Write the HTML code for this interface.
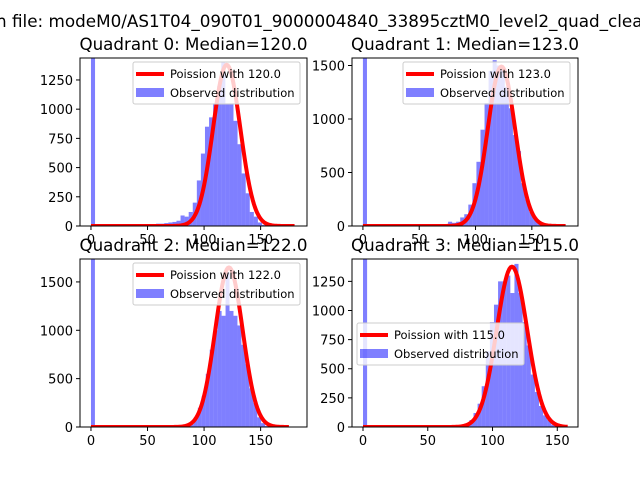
<!DOCTYPE html>
<html><head><meta charset="utf-8"><style>
body{margin:0;background:#fff;width:640px;height:480px;overflow:hidden}
svg text{font-family:"DejaVu Sans","Liberation Sans",sans-serif}
</style></head><body>
<svg id="fig" width="640" height="480" xmlns="http://www.w3.org/2000/svg">
<text x="-4" y="27" font-size="16.8" fill="#000">n file: modeM0/AS1T04_090T01_9000004840_33895cztM0_level2_quad_clean.evt</text>
</svg>
<script>
const quadTitles=["Quadrant 0: Median=120.0","Quadrant 1: Median=123.0","Quadrant 2: Median=122.0","Quadrant 3: Median=115.0"];
const medians=[120,123,122,115];
const binWidths=[3.6,3.6,3.5,3.16];
const poissonPeaks=[1380,1490,1650,1376];
const q0Counts=[1500,0,0,0,0,0,0,0,0,0,0,0,0,0,0,15,20,20,25,30,35,45,90,80,120,200,390,620,850,930,1050,1200,1400,1050,1050,900,700,450,280,120,80,30,10,0,0,0,0,0,0,0];
const q1Counts=[1600,0,0,0,0,0,0,0,0,0,0,0,10,0,0,0,0,0,0,0,0,40,30,40,80,110,200,400,600,900,1150,1450,1550,1500,1480,1300,1100,850,700,400,250,130,80,30,10,0,0,0,0,0];
const q2Counts=[1800,0,0,0,0,0,0,0,0,0,0,0,0,0,0,0,0,0,0,0,0,0,0,5,10,30,100,200,320,550,800,1000,1200,1150,1600,1200,1150,1050,850,650,400,250,100,40,10,0,0,0,0,0];
const q3Counts=[1500,0,0,0,0,0,0,0,0,0,0,0,0,0,0,0,0,0,0,0,0,0,0,0,10,20,60,120,200,350,650,900,1050,1250,1250,1300,1150,1400,1150,900,700,450,300,180,100,60,20,0,0,0];
const allCounts=[q0Counts,q1Counts,q2Counts,q3Counts];
const yTicks=[[0,250,500,750,1000,1250],[0,500,1000,1500],[0,500,1000,1500],[0,250,500,750,1000,1250]];
const xTicks=[0,50,100,150];
const yMaxes=[1438,1570,1737,1442];
const xRanges=[[-9.7,191],[-9.7,191],[-9.7,191],[-8.5,166]];
const boxes=[[80,58,227,168],[352,58,226,168],[80,259,227,168],[352,259,226,168]];
const legendPos=[[133,62],[403,62],[133,263],[357,323]];
const NS="http://www.w3.org/2000/svg";
const svg=document.getElementById('fig');
function mk(t,a,p){const e=document.createElementNS(NS,t);for(const k in a)e.setAttribute(k,a[k]);(p||svg).appendChild(e);return e;}
for(let q=0;q<4;q++){
  const [bx,by,bw,bh]=boxes[q];
  const [x0,x1]=xRanges[q];
  const sx=v=>bx+(v-x0)/(x1-x0)*bw;
  const sy=v=>by+bh-v/yMaxes[q]*bh;
  const g=mk('g',{});
  
  
  const clipId='c'+q;
  const cp=mk('clipPath',{id:clipId},g);mk('rect',{x:bx,y:by,width:bw,height:bh},cp);
  const t=mk('text',{x:bx+bw/2,y:by-8,'font-size':16.7,'text-anchor':'middle'},g);
  t.textContent=quadTitles[q];
  
  
  const pg=mk('g',{'clip-path':'url(#'+clipId+')'},g);
  const counts=allCounts[q],w=binWidths[q];
  counts.forEach((c,i)=>{ if(c<=0)return;
    const r=mk('rect',{x:sx(i*w),y:sy(c),width:sx((i+1)*w)-sx(i*w),height:sy(0)-sy(c),fill:'#0000ff','fill-opacity':0.5},pg);
    
    
  });
  const lam=medians[q],kmax=Math.round(counts.length*w);
  const sig=1.1*Math.sqrt(lam);
  let d='';
  for(let k=0;k<=kmax;k++){const p=Math.exp(-0.5*Math.pow((k-lam)/sig,2))*poissonPeaks[q];d+=(k?'L':'M')+sx(k).toFixed(2)+','+sy(p).toFixed(2);}
  const pl=mk('path',{d:d,fill:'none',stroke:'#ff0000','stroke-width':4,'stroke-linejoin':'round'},pg);
  
  
  mk('rect',{x:bx,y:by,width:bw,height:bh,fill:'none',stroke:'#000','stroke-width':1},g);
  xTicks.forEach(v=>{const x=sx(v);if(x>bx+bw)return;
    mk('line',{x1:x,y1:by+bh,x2:x,y2:by+bh+4,stroke:'#000'},g);
    const tt=mk('text',{x:x,y:by+bh+18,'font-size':13,'text-anchor':'middle'},g);tt.textContent=v;
    
    });
  yTicks[q].forEach(v=>{const y=sy(v);
    mk('line',{x1:bx-4,y1:y,x2:bx,y2:y,stroke:'#000'},g);
    const tt=mk('text',{x:bx-7,y:y+5,'font-size':13,'text-anchor':'end'},g);tt.textContent=v;
    
    });
  const [lx,ly]=legendPos[q];
  const lg=mk('g',{},g);
  
  
  mk('rect',{x:lx,y:ly,width:167,height:42,rx:2,fill:'#fff','fill-opacity':0.8,stroke:'#ccc'},lg);
  mk('line',{x1:lx+3,y1:ly+12,x2:lx+31,y2:ly+12,stroke:'#ff0000','stroke-width':4},lg);
  const l1=mk('text',{x:lx+37,y:ly+16,'font-size':11.5},lg);l1.textContent='Poission with '+medians[q].toFixed(1);
  
  
  mk('rect',{x:lx+3,y:ly+26,width:28,height:9,fill:'#0000ff','fill-opacity':0.5},lg);
  const l2=mk('text',{x:lx+37,y:ly+35,'font-size':11.5},lg);l2.textContent='Observed distribution';
  
  
}
</script>
</body></html>
